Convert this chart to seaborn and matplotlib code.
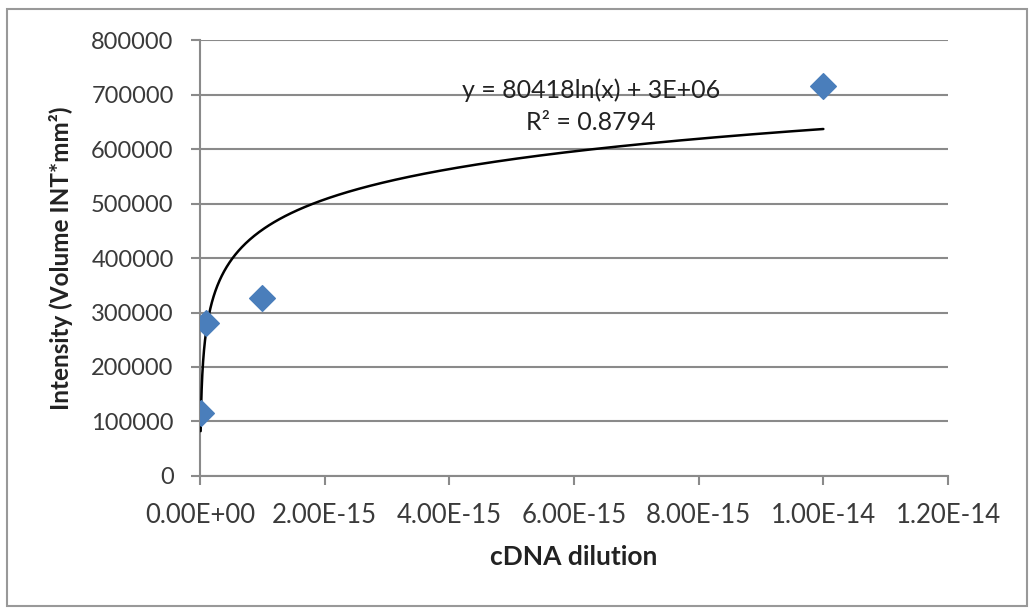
import numpy as np
import pandas as pd
import matplotlib
matplotlib.use("Agg")
import matplotlib.pyplot as plt
import seaborn as sns
from matplotlib.patches import Rectangle
from matplotlib.ticker import FuncFormatter

dilution = [1e-17, 1e-16, 1e-15, 1e-14]
intensity = [115000, 281000, 326000, 716000]
eq_text = "y = 80418ln(x) + 3E+06"
r2_text = "R² = 0.8794"

sns.set_style("white")
plt.rcParams['font.family'] = ['Lato', 'DejaVu Sans']

fig = plt.figure(figsize=(10.29, 6.09), dpi=100)
ax = fig.add_axes([0.1944, 0.2184, 0.9213 - 0.1944, 0.9343 - 0.2184])

df = pd.DataFrame({"x": dilution, "y": intensity})

# logarithmic trendline fitted from the data
coef = np.polyfit(np.log(df["x"]), df["y"], 1)
xs = np.geomspace(min(dilution), max(dilution), 400)
trend = pd.DataFrame({"x": xs, "y": coef[0] * np.log(xs) + coef[1]})
sns.lineplot(data=trend, x="x", y="y", ax=ax, color="black", lw=1.8, zorder=3)

sns.scatterplot(data=df, x="x", y="y", ax=ax, marker="D", s=170,
                color="#4a7ebb", edgecolor="#4a7ebb", zorder=4)

ax.set_xlim(0, 1.2e-14)
ax.set_ylim(0, 800000)
ax.set_xticks(np.arange(0, 1.21e-14, 2e-15))
ax.set_yticks(np.arange(0, 800001, 100000))
ax.xaxis.set_major_formatter(FuncFormatter(lambda v, p: f"{v:.2E}"))
ax.yaxis.set_major_formatter(FuncFormatter(lambda v, p: f"{int(round(v))}"))
ax.grid(axis="y", color="#8a8a8a", lw=1.5)
ax.grid(axis="x", visible=False)
for s in ["top", "right"]:
    ax.spines[s].set_visible(False)
for s in ["left", "bottom"]:
    ax.spines[s].set_color("#8a8a8a")
    ax.spines[s].set_linewidth(1.5)
ax.tick_params(axis="both", which="major", length=6.5, width=1.5, color="#8a8a8a",
               labelcolor="#3a3a3a", direction="out")
ax.tick_params(axis="y", left=True, labelsize=17, pad=12.5)
ax.tick_params(axis="x", bottom=True, labelsize=18.5, pad=13)

ax.set_xlabel("cDNA dilution", fontsize=19, fontweight="bold", color="#222222", labelpad=12)
ax.set_ylabel("Intensity (Volume INT*mm²)", fontsize=17.5, fontweight="bold",
              color="#222222", labelpad=13)

ax.text(6.27e-15, 708000, eq_text, ha="center", va="center", fontsize=18, color="#222222")
ax.text(6.27e-15, 649500, r2_text, ha="center", va="center", fontsize=18, color="#222222")

fig.add_artist(Rectangle((7 / 1029, 3 / 609), 1020 / 1029, 597 / 609, transform=fig.transFigure,
                         fill=False, edgecolor="#999999", lw=1.5))

fig.savefig("out.png", dpi=100)
